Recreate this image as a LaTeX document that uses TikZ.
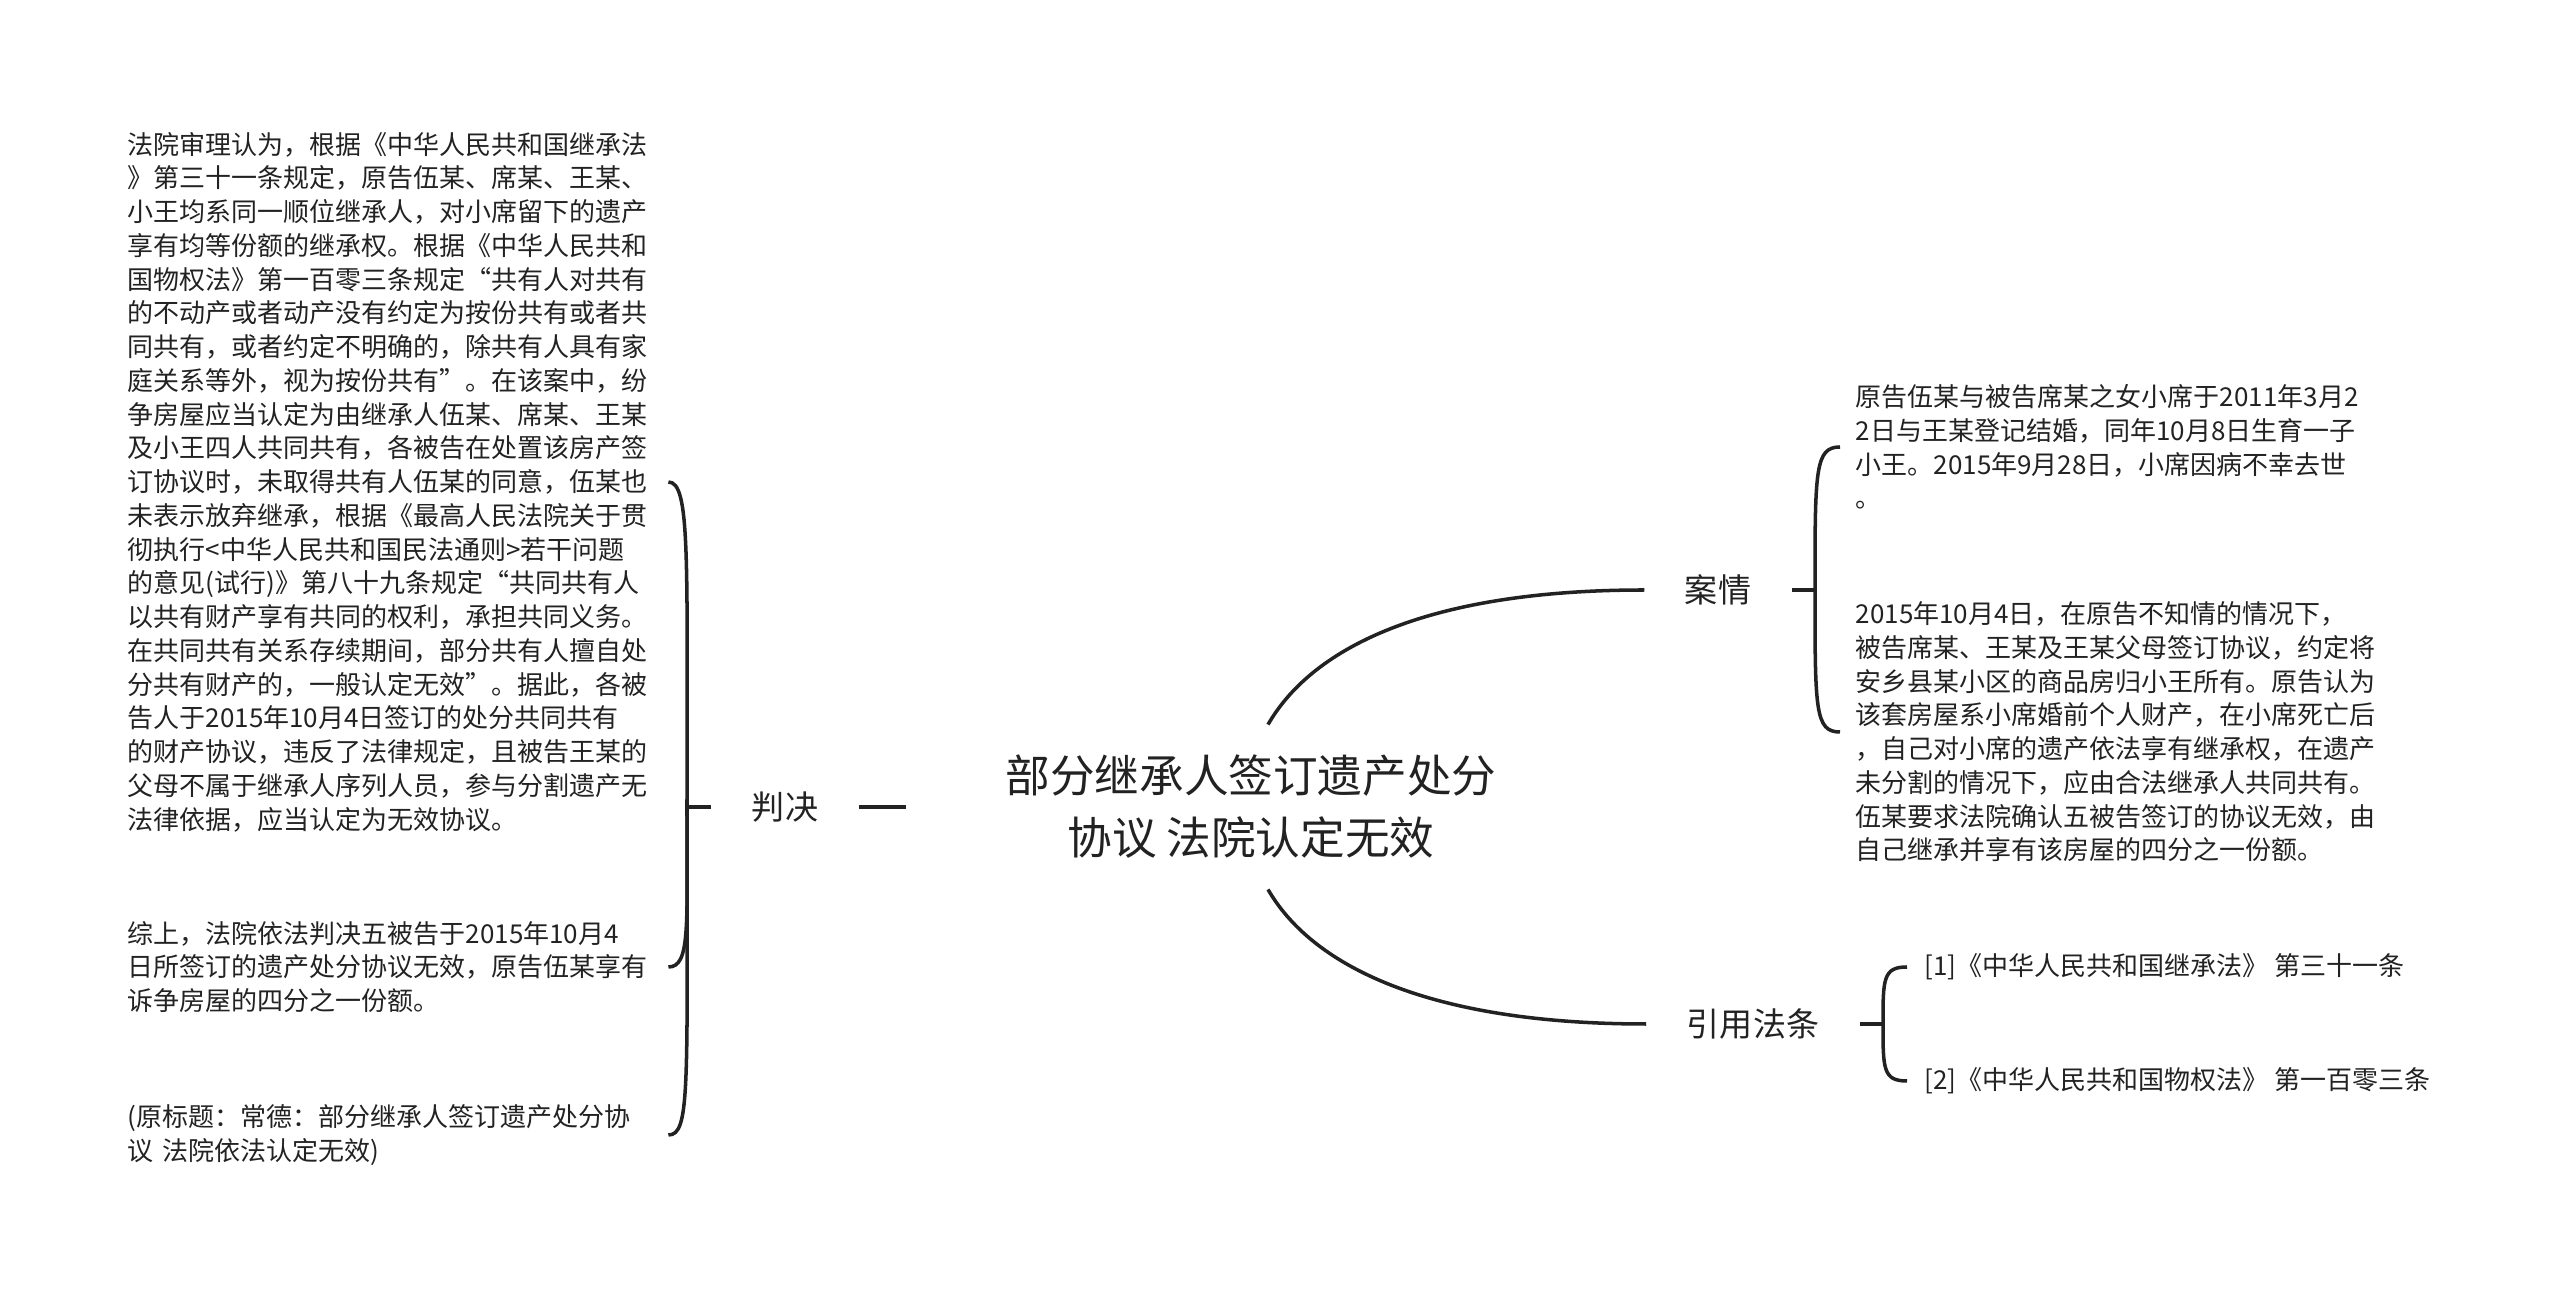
\documentclass[tikz,border=0pt]{standalone}
\usepackage{fontspec}
\newfontfamily\cjkfont{Noto Sans CJK SC}
\definecolor{ink}{HTML}{222222}
\begin{document}
\begin{tikzpicture}[x=0.1mm, y=-0.1mm,
    every node/.style={font=\cjkfont, text=ink},
    title/.style={font=\cjkfont\fontsize{12.7}{17.6}\selectfont, align=center, inner xsep=3mm, inner ysep=3mm},
    branch/.style={font=\cjkfont\fontsize{9.4}{11}\selectfont, inner xsep=4mm, inner ysep=1mm},
    leaf/.style={font=\cjkfont\fontsize{7.4}{9.6}\selectfont, align=left, text width=54mm, inner xsep=0pt, inner ysep=0pt, anchor=west},
    ref/.style={font=\cjkfont\fontsize{7.4}{9.6}\selectfont, inner xsep=1.7mm, inner ysep=0pt, anchor=west},
    link/.style={draw=ink, line width=1pt}]
    \useasboundingbox (0,0) rectangle (2560,1293);

    \node[title] (root) at (1251,807) {部分继承人签订遗产处分\\协议 法院认定无效};

    \node[branch] (pj) at (785,807) {判决};
    \node[branch] (aq) at (1718,590) {案情};
    \node[branch] (yf) at (1753,1024) {引用法条};

    \node[leaf] (b1) at (127,482) {法院审理认为，根据《中华人民共和国继承法\\
》第三十一条规定，原告伍某、席某、王某、\\
小王均系同一顺位继承人，对小席留下的遗产\\
享有均等份额的继承权。根据《中华人民共和\\
国物权法》第一百零三条规定“共有人对共有\\
的不动产或者动产没有约定为按份共有或者共\\
同共有，或者约定不明确的，除共有人具有家\\
庭关系等外，视为按份共有”。在该案中，纷\\
争房屋应当认定为由继承人伍某、席某、王某\\
及小王四人共同共有，各被告在处置该房产签\\
订协议时，未取得共有人伍某的同意，伍某也\\
未表示放弃继承，根据《最高人民法院关于贯\\
彻执行<中华人民共和国民法通则>若干问题\\
的意见(试行)》第八十九条规定“共同共有人\\
以共有财产享有共同的权利，承担共同义务。\\
在共同共有关系存续期间，部分共有人擅自处\\
分共有财产的，一般认定无效”。据此，各被\\
告人于2015年10月4日签订的处分共同共有\\
的财产协议，违反了法律规定，且被告王某的\\
父母不属于继承人序列人员，参与分割遗产无\\
法律依据，应当认定为无效协议。};
    \node[leaf] (b2) at (127,967) {综上，法院依法判决五被告于2015年10月4\\
日所签订的遗产处分协议无效，原告伍某享有\\
诉争房屋的四分之一份额。};
    \node[leaf] (b3) at (127,1135) {(原标题：常德：部分继承人签订遗产处分协\\
议 法院依法认定无效)};

    \node[leaf, text width=53mm, inner xsep=1.5mm] (c1) at (1840,447) {原告伍某与被告席某之女小席于2011年3月2\\
2日与王某登记结婚，同年10月8日生育一子\\
小王。2015年9月28日，小席因病不幸去世\\
。};
    \node[leaf, text width=53mm, inner xsep=1.5mm] (c2) at (1840,732) {2015年10月4日，在原告不知情的情况下，\\
被告席某、王某及王某父母签订协议，约定将\\
安乡县某小区的商品房归小王所有。原告认为\\
该套房屋系小席婚前个人财产，在小席死亡后\\
，自己对小席的遗产依法享有继承权，在遗产\\
未分割的情况下，应由合法继承人共同共有。\\
伍某要求法院确认五被告签订的协议无效，由\\
自己继承并享有该房屋的四分之一份额。};

    \node[ref] (l1) at (1907,967) {[1]《中华人民共和国继承法》 第三十一条};
    \node[ref] (l2) at (1907,1081) {[2]《中华人民共和国物权法》 第一百零三条};

    \coordinate (rl) at (906,807);
    \coordinate (jl) at (687,807);
    \coordinate (ja) at (1815,590);
    \coordinate (jy) at (1883,1024);

    \draw[link] (rl) -- (pj.east);
    \draw[link] (pj.west) -- (jl);
    \draw[link] (jl) .. controls +(0,-250) and +(22,0) .. (b1.east);
    \draw[link] (jl) .. controls +(0,120) and +(22,0) .. (b2.east);
    \draw[link] (jl) .. controls +(0,280) and +(22,0) .. (b3.east);

    \draw[link] ([xshift=1.7mm]root.north) .. controls +(42,-73) and +(-225,0) .. (aq.west);
    \draw[link] ([xshift=1.7mm]root.south) .. controls +(42,73) and +(-225,0) .. (yf.west);

    \draw[link] (aq.east) -- (ja);
    \draw[link] (ja) .. controls +(0,-120) and +(-25,0) .. (c1.west);
    \draw[link] (ja) .. controls +(0,120) and +(-25,0) .. (c2.west);

    \draw[link] (yf.east) -- (jy);
    \draw[link] (jy) .. controls +(0,-45) and +(-24,0) .. (l1.west);
    \draw[link] (jy) .. controls +(0,45) and +(-24,0) .. (l2.west);
\end{tikzpicture}
\end{document}
